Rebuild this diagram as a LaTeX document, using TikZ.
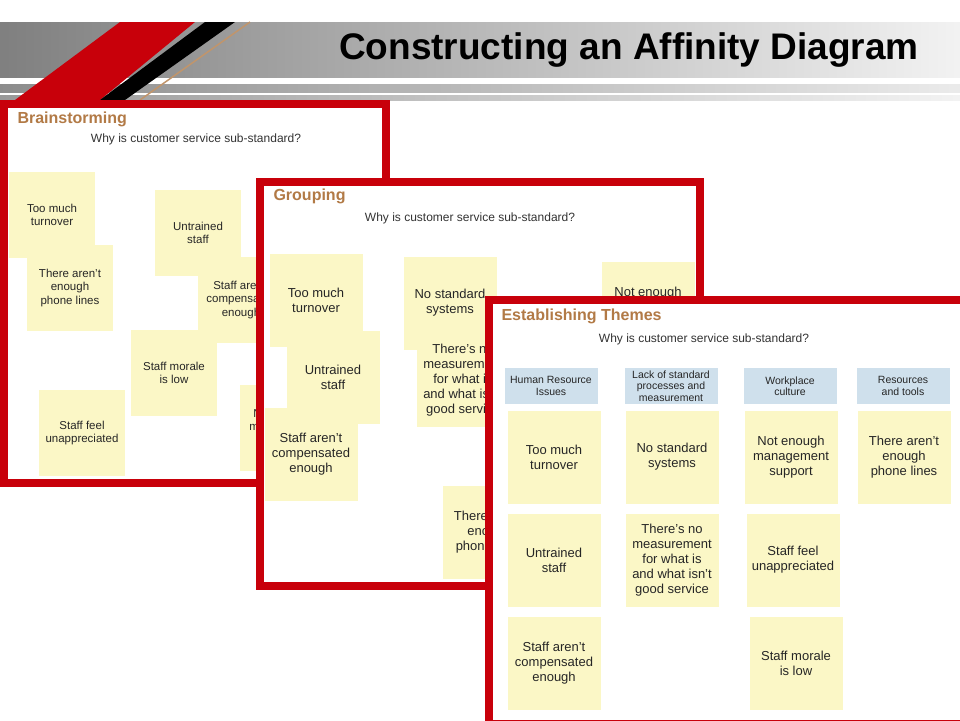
\documentclass[tikz,border=0pt]{standalone}
\usepackage{fontspec}
\setmainfont{Liberation Sans}
\definecolor{frame}{HTML}{C8000A}
\definecolor{notey}{HTML}{FBF7C6}
\definecolor{headb}{HTML}{CFE0EC}
\definecolor{tan}{HTML}{B27A46}
\definecolor{qtext}{HTML}{333333}
\begin{document}
\begin{tikzpicture}
		[x=1pt,y=-1pt,
		panel/.style={draw=frame,line width=8pt,fill=white},
		note/.style={fill=notey,inner sep=2pt,minimum width=93pt,minimum height=93pt,
align=center,font=\fontsize{13}{15}\selectfont,text=black!85},
		smallnote/.style={note,minimum width=86pt,minimum height=86pt,font=\fontsize{11.5}{13.5}\selectfont},
		head/.style={fill=headb,minimum width=93pt,minimum height=36pt,inner sep=1pt,
align=center,font=\fontsize{10.5}{11.5}\selectfont,text=black!85},
		paneltitle/.style={anchor=west,font=\bfseries\fontsize{16}{18}\selectfont,text=tan},
		question/.style={font=\fontsize{12}{14}\selectfont,text=qtext}]
		\useasboundingbox (0,0) rectangle (960,720);
		% header band
		\shade[left color=black!50,right color=black!5] (0,22) rectangle (960,78);
		\fill[white] (0,78) rectangle (960,82);
		\shade[left color=black!45,right color=black!8] (0,84) rectangle (960,92);
		\shade[left color=black!40,right color=black!5] (0,95) rectangle (960,100);
		\fill[frame] (15,100) -- (120,22) -- (195,22) -- (100,100) -- cycle;
		\fill[black] (100,100) -- (205,22) -- (235,22) -- (125,100) -- cycle;
		\draw[tan!80,line width=1.5pt] (140,100) -- (250,22);
		\node (title) at (629,50) {\bfseries\fontsize{37}{40}\selectfont Constructing an Affinity Diagram};
		% brainstorming
		\draw[panel] (4,104) rectangle (386,483);
		\begin{scope}
			\clip (8,108) rectangle (382,479);
			\node (b1) at (52,215) [smallnote] {Too much\\turnover};
			\node (b2) at (70,288) [smallnote] {There aren't\\enough\\phone lines};
			\node (b3) at (198,233) [smallnote] {Untrained\\staff};
			\node (b4) at (241,300) [smallnote] {Staff aren't\\compensated\\enough};
			\node (b5) at (174,373) [smallnote] {Staff morale\\is low};
			\node (b6) at (82,433) [smallnote] {Staff feel\\unappreciated};
			\node (b7) at (283,428) [smallnote] {Not enough\\management\\support};
		\end{scope}
		\node (t1) at (14,119) [paneltitle] {Brainstorming};
		\node (q1) at (196,139) [question] {Why is customer service sub-standard?};
		% grouping
		\draw[panel] (260,182) rectangle (700,586);
		\begin{scope}
			\clip (264,186) rectangle (696,582);
			\node (g1) at (316,300) [note] {Too much\\turnover};
			\node (g2) at (333,377) [note] {Untrained\\staff};
			\node (g3) at (311,454) [note] {Staff aren't\\compensated\\enough};
			\node (g4) at (450,303) [note] {No standard\\systems};
			\node (g5) at (463,380) [note] {There's no\\measurement\\for what is\\and what isn't\\good service};
			\node (g6) at (489,532) [note] {There aren't\\enough\\phone lines};
			\node (g7) at (648,308) [note] {Not enough\\management\\support};
		\end{scope}
		\node (t2) at (270,196) [paneltitle] {Grouping};
		\node (q2) at (470,218) [question] {Why is customer service sub-standard?};
		% establishing themes
		\draw[panel] (489,300) rectangle (964,724);
		\node (t3) at (498,316) [paneltitle] {Establishing Themes};
		\node (q3) at (704,339) [question] {Why is customer service sub-standard?};
		\node (h1) at (551,386) [head] {Human Resource\\Issues};
		\node (h2) at (671,386) [head] {Lack of standard\\processes and\\measurement};
		\node (h3) at (790,386) [head] {Workplace\\culture};
		\node (h4) at (903,386) [head] {Resources\\and tools};
		\node (e1) at (554,457) [note] {Too much\\turnover};
		\node (e2) at (554,560) [note] {Untrained\\staff};
		\node (e3) at (554,663) [note] {Staff aren't\\compensated\\enough};
		\node (e4) at (672,457) [note] {No standard\\systems};
		\node (e5) at (672,560) [note] {There's no\\measurement\\for what is\\and what isn't\\good service};
		\node (e6) at (791,457) [note] {Not enough\\management\\support};
		\node (e7) at (793,560) [note] {Staff feel\\unappreciated};
		\node (e8) at (796,663) [note] {Staff morale\\is low};
		\node (e9) at (904,457) [note] {There aren't\\enough\\phone lines};
	\end{tikzpicture}
\end{document}
